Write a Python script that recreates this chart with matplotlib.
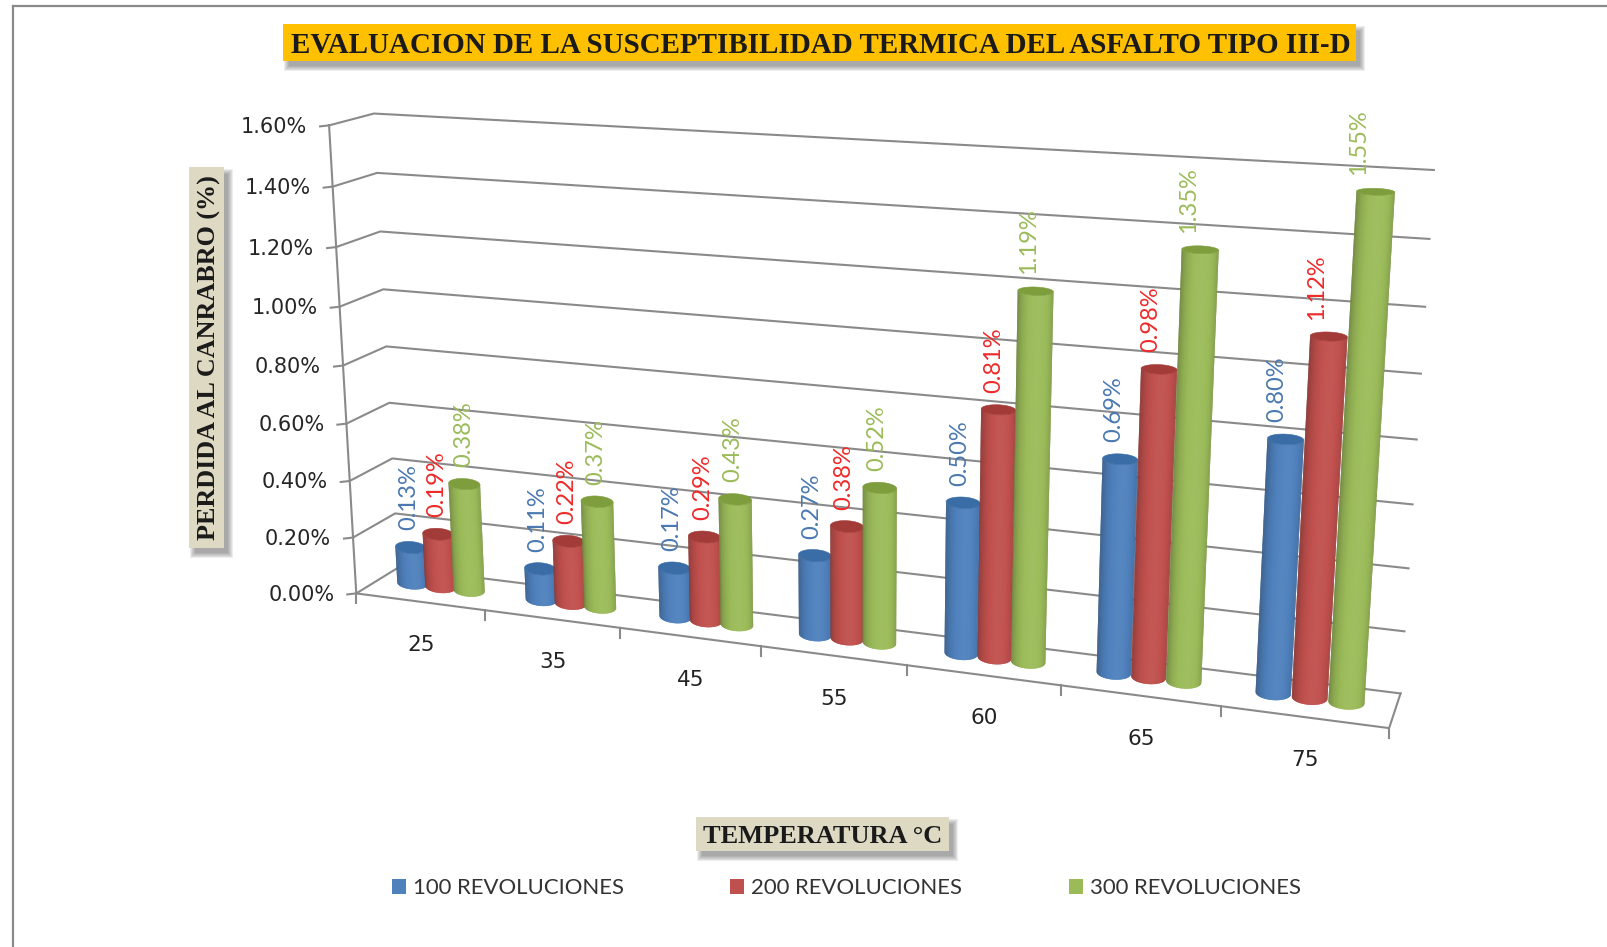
import numpy as np
import matplotlib
matplotlib.use("Agg")
import matplotlib.pyplot as plt
from matplotlib.collections import PolyCollection
from matplotlib.patches import Polygon, Rectangle

W, H = 1607, 947
S = 1607 / 1568  # layout below was measured on a 1568 wide sheet

categories = ["25", "35", "45", "55", "60", "65", "75"]
series_names = ["100 REVOLUCIONES", "200 REVOLUCIONES", "300 REVOLUCIONES"]
rev_100 = [0.13, 0.11, 0.17, 0.27, 0.50, 0.69, 0.80]
rev_200 = [0.19, 0.22, 0.29, 0.38, 0.81, 0.98, 1.12]
rev_300 = [0.38, 0.37, 0.43, 0.52, 1.19, 1.35, 1.55]
y_ticks = [0.0, 0.2, 0.4, 0.6, 0.8, 1.0, 1.2, 1.4, 1.6]

bar_colors = ["#4F81BD", "#C0504D", "#9BBB59"]
top_colors = ["#3A6CA6", "#A33B38", "#7E9E3E"]
label_colors = ["#4A78B0", "#EE2A2A", "#9BBB59"]
GRID = "#8A8A8A"
TAN = "#DDD9C3"

BAR_STEP = 0.222
BAR_RX = 0.108
BAR_RW = 0.20
BAR_DEPTH = 0.55
GROUP_CENTER = 0.485


def fit_camera():
    # box corners (category, value, depth) -> sheet position, solved as a 3x4 projection
    corners = [
        ((0, 1.6, 0), (320, 122)),
        ((0, 0, 0), (349, 578)),
        ((0, 1.6, 1), (366, 111)),
        ((0, 0, 1), (387, 555)),
        ((7, 1.6, 1), (1399, 166)),
        ((7, 0, 1), (1367, 675)),
        ((7, 0, 0), (1355, 712)),
    ]
    rows, rhs = [], []
    for (X, Y, Z), (x, y) in corners:
        x, y = x * S, y * S
        rows.append([X, Y, Z, 1, 0, 0, 0, 0, -x * X, -x * Y, -x * Z])
        rows.append([0, 0, 0, 0, X, Y, Z, 1, -y * X, -y * Y, -y * Z])
        rhs += [x, y]
    sol = np.linalg.lstsq(np.array(rows, float), np.array(rhs, float), rcond=None)[0]
    return np.append(sol, 1.0).reshape(3, 4)


CAM = fit_camera()


def project(u, v, w):
    p = CAM @ np.array([u, v, w, 1.0])
    return np.array([p[0] / p[2], p[1] / p[2]])


def shade(color, f):
    rgb = np.array(matplotlib.colors.to_rgb(color))
    if f <= 1:
        return tuple(rgb * f)
    return tuple(rgb + (1 - rgb) * (f - 1))


def shadow_box(ax, x0, y0, x1, y1, color, dx=5, dy=6):
    # soft drop shadow built from stacked translucent rectangles
    for i in range(6):
        grow = 4 - i
        ax.add_patch(Rectangle((x0 * S + dx - grow, y0 * S + dy - grow),
                               (x1 - x0) * S + 2 * grow, (y1 - y0) * S + 2 * grow,
                               fc="#505050", ec="none", alpha=0.10, zorder=5))
    ax.add_patch(Rectangle((x0 * S, y0 * S), (x1 - x0) * S, (y1 - y0) * S,
                           fc=color, ec="none", zorder=6))


def disc_axes(uc, rx, v):
    # centre, long axis and short axis of the cylinder cross section at height v
    c = project(uc, v, BAR_DEPTH)
    long_axis = project(uc + rx, v, BAR_DEPTH) - c
    back = project(uc, v, BAR_DEPTH + BAR_RW) - c
    step = project(uc + 1, v, BAR_DEPTH) - c
    short = abs(back[1] - step[1] * back[0] / step[0])
    long_axis[1] *= 0.5  # discs sit flatter than the floor slope
    return c, long_axis, np.array([0.0, short])


def draw_cylinder(ax, uc, rx, value, idx, z):
    c0, m0, n0 = disc_axes(uc, rx, 0)
    c1, m1, n1 = disc_axes(uc, rx, value)
    thetas = np.linspace(0, np.pi, 41)
    polys, cols = [], []
    # each strip reaches over the next one so no seams show between them
    for k in range(len(thetas) - 1):
        a, b = thetas[k], thetas[min(k + 2, len(thetas) - 1)]
        polys.append([c0 + np.cos(a) * m0 + np.sin(a) * n0,
                      c0 + np.cos(b) * m0 + np.sin(b) * n0,
                      c1 + np.cos(b) * m1 + np.sin(b) * n1,
                      c1 + np.cos(a) * m1 + np.sin(a) * n1])
        light = max(0.0, np.sin(thetas[k] + 0.2))
        cols.append(shade(bar_colors[idx], 0.72 + 0.32 * light))
    ax.add_collection(PolyCollection(polys, facecolors=cols, edgecolors="none",
                                     linewidths=0, zorder=z))
    ring = np.linspace(0, 2 * np.pi, 60)
    top = [c1 + np.cos(t) * m1 + np.sin(t) * n1 for t in ring]
    ax.add_patch(Polygon(top, closed=True, fc=top_colors[idx], ec=top_colors[idx],
                         lw=0.4, zorder=z + 0.001))


plt.rcParams["font.family"] = ["Lato", "DejaVu Sans"]
fig = plt.figure(figsize=(W / 100, H / 100), dpi=100)
ax = fig.add_axes([0, 0, 1, 1])
ax.set_xlim(0, W)
ax.set_ylim(H, 0)
ax.axis("off")

# sheet border, top and left only
ax.plot([13 * S, W], [6, 6], color="#8A8A8A", lw=1.6, zorder=1)
ax.plot([13 * S, 13 * S], [6, H], color="#8A8A8A", lw=1.6, zorder=1)

# back wall, side wall and tick stubs
for v in y_ticks:
    pts = [project(0, v, 0), project(0, v, 1), project(7, v, 1)]
    ax.plot([p[0] for p in pts], [p[1] for p in pts], color=GRID, lw=1.5, zorder=2)
    fx, fy = pts[0]
    ax.plot([fx - 9, fx], [fy + 1, fy], color=GRID, lw=1.5, zorder=2)
    ax.text(fx - 22, fy + 1.5, f"{v:.2f}%", ha="right", va="center", fontsize=15,
            family="DejaVu Sans", color="#262626", zorder=8)

# front vertical axis and floor edges
pts = [project(0, 1.6, 0), project(0, 0, 0), project(7, 0, 0), project(7, 0, 1)]
ax.plot([p[0] for p in pts], [p[1] for p in pts], color=GRID, lw=1.5, zorder=2)

for i in range(8):
    fx, fy = project(i, 0, 0)
    ax.plot([fx, fx], [fy, fy + 10], color=GRID, lw=1.5, zorder=2)

for i, name in enumerate(categories):
    fx, fy = project(i + 0.5, 0, 0)
    ax.text(fx + 1, fy + 43, name, ha="center", va="center", fontsize=15.5,
            family="DejaVu Sans", color="#222222", zorder=8)

# cylinders, left to right so each one overlaps the previous
z = 3.0
for i in range(len(categories)):
    rx = BAR_RX * (1.12 - 0.02 * i)  # the nearer left groups read a bit fatter
    for s, values in enumerate([rev_100, rev_200, rev_300]):
        uc = i + GROUP_CENTER + (s - 1) * BAR_STEP
        val = values[i]
        draw_cylinder(ax, uc, rx, val, s, z)
        z += 0.01
        bx, by = project(uc, 0, BAR_DEPTH)
        tx, ty = project(uc, val, BAR_DEPTH)
        ax.text((bx + tx) / 2 - 3, ty - 17, f"{val:.2f}%", rotation=90, ha="center",
                va="bottom", fontsize=17, color=label_colors[s], zorder=7)

# title and axis captions
shadow_box(ax, 276, 23, 1323, 60, "#FFC000")
ax.text(800.5 * S, 44 * S, "EVALUACION DE LA SUSCEPTIBILIDAD TERMICA DEL ASFALTO TIPO III-D",
        ha="center", va="center", family="Liberation Serif", fontweight="bold",
        fontsize=20.9, color="#1A1A1A", zorder=7)

shadow_box(ax, 184, 163, 219, 535, TAN)
ax.text(204 * S, 349 * S, "PERDIDA AL CANRABRO (%)", rotation=90, ha="center", va="center",
        family="Liberation Serif", fontweight="bold", fontsize=18.8, color="#1A1A1A", zorder=7)

shadow_box(ax, 679, 797, 926, 830, TAN)
ax.text(802.5 * S, 816 * S, "TEMPERATURA °C", ha="center", va="center",
        family="Liberation Serif", fontweight="bold", fontsize=19, color="#1A1A1A", zorder=7)

# legend
for name, color, lx in zip(series_names, bar_colors, [382, 712, 1043]):
    ax.add_patch(Rectangle((lx * S, 858 * S), 14 * S, 14 * S, fc=color, ec="none", zorder=6))
    ax.text((lx + 21) * S, 866 * S, name, ha="left", va="center", fontsize=15.9,
            color="#333333", zorder=7)

fig.savefig("out.png", dpi=100, facecolor="white")
